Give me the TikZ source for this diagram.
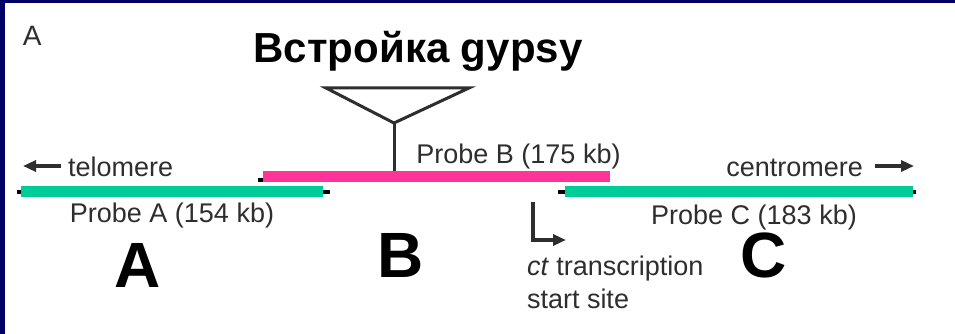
\documentclass[tikz,border=0pt]{standalone}
\usepackage{fontspec}
\setmainfont{Liberation Sans}
\usetikzlibrary{positioning}
\usetikzlibrary{arrows.meta, backgrounds}
\definecolor{frameblue}{HTML}{000066}
\definecolor{probegreen}{HTML}{00CC99}
\definecolor{probepink}{HTML}{FF3399}
\definecolor{labelgray}{HTML}{2E2E2E}

\begin{document}
\begin{tikzpicture}[x=1pt, y=-1pt, >={Triangle[length=13pt, width=11pt]},
        every node/.style={inner sep=0pt, outer sep=0pt},
        lbl/.style={font=\fontsize{27}{32}\selectfont, text=labelgray},
        big/.style={font=\fontsize{64}{70}\selectfont\bfseries},
        bar/.style={rectangle, minimum height=11pt},
        chrom/.style={line width=4pt, black},
        ins/.style={line width=3pt, labelgray},
        arr/.style={->, line width=3.2pt, labelgray}]
        \useasboundingbox (0,0) rectangle (955,334);
        % Panel letter and title
        \node[lbl, font=\fontsize{28}{32}\selectfont, anchor=base west] (panel) at (23,46) {A};
        \node[font=\fontsize{42}{48}\selectfont\bfseries, anchor=base] (title) at (418,63) {Встройка gypsy};
        % Probe bars
        \node[bar, fill=probegreen, minimum width=302pt] (barA) at (172,191.5) {};
        \node[bar, fill=probepink, minimum width=347pt] (barB) at (436.5,176.5) {};
        \node[bar, fill=probegreen, minimum width=348pt] (barC) at (739,191.5) {};
        % Probe labels
        \node[lbl, below=6pt of barA] (probeA) {Probe A (154 kb)};
        \node[lbl, above=2pt of barB, xshift=82pt] (probeB) {Probe B (175 kb)};
        \node[lbl, below=8pt of barC, xshift=15pt] (probeC) {Probe C (183 kb)};
        % Region letters
        \node[big] (letA) at (138,265) {A};
        \node[big] (letB) at (401,255) {B};
        \node[big] (letC) at (763.5,255.5) {C};
        % Telomere and centromere directions
        \node[lbl, anchor=base west] (telomere) at (68,176) {telomere};
        \coordinate (telEnd) at (23,166);
        \draw[arr, shorten <=7pt] (telomere.west |- telEnd) -- (telEnd);
        \node[lbl, anchor=base east] (centromere) at (863,176) {centromere};
        \coordinate (cenEnd) at (914,166);
        \draw[arr, shorten <=12pt] (centromere.east |- cenEnd) -- (cenEnd);
        % gypsy insertion
        \coordinate (insL) at (326,88);
        \coordinate (insR) at (469,88);
        \coordinate (apex) at (394,123);
        \draw[ins, line join=miter] (insL) -- (insR) -- (apex) -- cycle;
        \draw[ins] (apex) -- (apex |- barB.north);
        % ct transcription start site
        \coordinate (tssTop) at (533,202);
        \coordinate (tssEnd) at (566,240);
        \draw[arr] (tssTop) |- (tssEnd);
        \node[lbl, anchor=base west] (tss) at (527,275) {\textit{ct} transcription};
        \node[lbl, anchor=base west] (tssSite) at ([yshift=-33pt]tss.base west) {start site};
        % Frame and chromosome line behind the bars
        \begin{scope}[on background layer]
            \fill[frameblue] (0,0) rectangle (955,334);
            \fill[white] (5,3) rectangle (955,334);
            \draw[chrom] ([xshift=-4pt]barA.west) -- ([xshift=7pt]barA.east);
            \draw[chrom] ([shift={(-5,-2.5)}]barB.south west) -- ([shift={(-5,-2.5)}]barB.south east);
            \draw[chrom] ([xshift=-7pt]barC.west) -- ([xshift=3pt]barC.east);
        \end{scope}
\end{tikzpicture}
\end{document}
